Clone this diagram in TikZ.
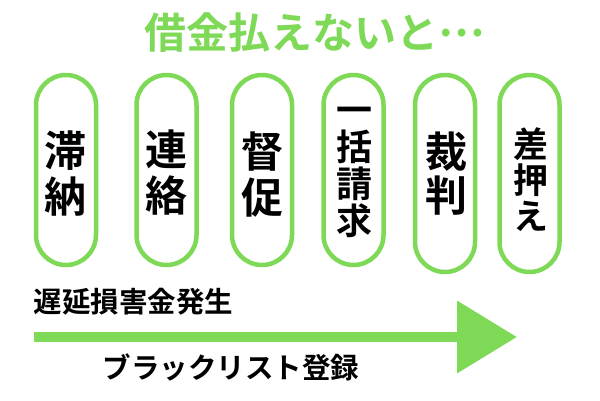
\documentclass[tikz,border=0pt]{standalone}
\usepackage{fontspec}
\setmainfont{Noto Sans CJK JP}[BoldFont={* Bold}]
\usetikzlibrary{arrows.meta}
\definecolor{lgreen}{HTML}{7ED957}
\tikzset{
  pill/.style={draw=lgreen, line width=4.5pt, rounded corners=30pt, minimum width=60pt, inner sep=0pt, fill=white},
  vtext/.style={inner sep=0pt, align=center, text=black},
  biglbl/.style={font=\fontsize{42}{46}\selectfont\bfseries},
  midlbl/.style={font=\fontsize{36}{37}\selectfont\bfseries},
  smalllbl/.style={font=\fontsize{35}{36}\selectfont\bfseries},
  caption/.style={inner sep=0pt, font=\fontsize{28.5}{30}\selectfont\bfseries, text=black},
  flow/.style={draw=lgreen, line width=10.6pt, -{Triangle[length=60pt,width=70pt]}},
}
\begin{document}
\begin{tikzpicture}[x=1pt,y=-1pt]
\useasboundingbox (0,0) rectangle (600,400);
\node[inner sep=0pt, text=lgreen, font=\fontsize{42}{46}\selectfont\bfseries] (title) at (315,33) {借金払えないと\smash{\raisebox{12pt}{…}}};
% pills
\node[pill, minimum height=190pt] (p1) at (66,170) {};
\node[pill, minimum height=190pt] (p2) at (166.5,170) {};
\node[pill, minimum height=190pt] (p3) at (262,170) {};
\node[pill, minimum height=190pt] (p4) at (353.5,170) {};
\node[pill, minimum height=197pt] (p5) at (445,173.5) {};
\node[pill, minimum height=197pt] (p6) at (529.5,173.5) {};
% texts
\node[vtext, biglbl] (t1) at (65,173.5) {滞\\納};
\node[vtext, biglbl] (t2) at (166,173) {連\\絡};
\node[vtext, biglbl] (t3) at (262,174.5) {督\\促};
\node[vtext, midlbl] (t4) at (354.5,172) {一\\括\\請\\求};
\node[vtext, biglbl, font=\fontsize{42}{44}\selectfont\bfseries] (t5) at (446,174) {裁\\判};
\node[vtext, smalllbl] (t6) at (531,180) {差\\押\\え};
% arrow
\coordinate (as) at (34,337);
\coordinate (ae) at (517,337);
\draw[flow] (as) -- (ae);
\node[caption] (late) at (133.5,302) {遅延損害金発生};
\node[caption] (black) at (231,367.5) {ブラックリスト登録};
\end{tikzpicture}
\end{document}
